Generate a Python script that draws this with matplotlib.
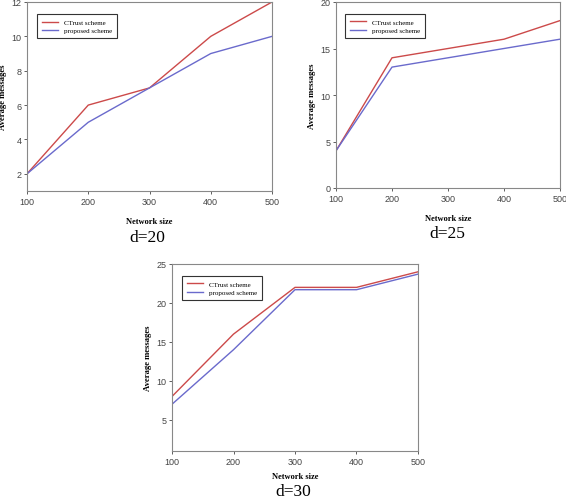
import matplotlib
matplotlib.use('Agg')
import matplotlib.pyplot as plt

# Datos
network_size = [100, 200, 300, 400, 500]

ctrust_d20 = [2, 6, 7, 10, 12]
proposed_d20 = [2, 5, 7, 9, 10]

ctrust_d25 = [4, 14, 15, 16, 18]
proposed_d25 = [4, 13, 14, 15, 16]

ctrust_d30 = [8, 16, 22, 22, 24]
proposed_d30 = [7, 14, 21.7, 21.7, 23.7]

titles = ['d=20', 'd=25', 'd=30']

red = '#cc4a4a'
blue = '#6a6acc'
serif = 'Liberation Serif'
sans = 'Liberation Sans'

fig = plt.figure(figsize=(5.66, 5.02), dpi=100)

W, H = 566.0, 502.0


def make_axes(x0, x1, ytop, ybot):
    return fig.add_axes([x0 / W, 1 - ybot / H, (x1 - x0) / W, (ybot - ytop) / H])


panels = [
    (make_axes(27, 272, 3, 192), ctrust_d20, proposed_d20, (1, 12), [2, 4, 6, 8, 10, 12], 8),
    (make_axes(336, 560, 3, 189), ctrust_d25, proposed_d25, (0, 20), [0, 5, 10, 15, 20], 8),
    (make_axes(172, 418, 265, 452), ctrust_d30, proposed_d30, (1, 25), [5, 10, 15, 20, 25], 5),
]

for ax, c, p, ylim, yticks, xpad in panels:
    ax.plot(network_size, c, color=red, lw=1.0, label='CTrust scheme')
    ax.plot(network_size, p, color=blue, lw=1.0, label='proposed scheme')
    ax.set_xlim(100, 500)
    ax.set_ylim(*ylim)
    ax.set_xticks(network_size)
    ax.set_yticks(yticks)
    ax.tick_params(labelsize=6.5, length=2, width=0.6, colors='#444444', pad=2)
    for lab in ax.get_xticklabels() + ax.get_yticklabels():
        lab.set_family(sans)
    for s in ax.spines.values():
        s.set_color('#888888')
        s.set_linewidth(0.8)
    ax.set_xlabel('Network size', fontsize=6, fontweight='bold', family=serif, labelpad=xpad)
    ax.set_ylabel('Average messages', fontsize=6.2, fontweight='bold', family=serif, labelpad=3)
    leg = ax.legend(loc='upper left', bbox_to_anchor=(0.04, 0.935), borderaxespad=0,
                    fancybox=False, prop={'family': serif, 'size': 5},
                    handlelength=2.4, borderpad=0.7, labelspacing=0.35, framealpha=1)
    leg.get_frame().set_edgecolor('#333333')
    leg.get_frame().set_linewidth(0.8)

fig.text(147 / W, 1 - 238 / H, titles[0], ha='center', va='center', fontsize=12.5, family=serif)
fig.text(447 / W, 1 - 234 / H, titles[1], ha='center', va='center', fontsize=12.5, family=serif)
fig.text(293 / W, 1 - 492 / H, titles[2], ha='center', va='center', fontsize=12.5, family=serif)

plt.savefig('out.png', dpi=100)
